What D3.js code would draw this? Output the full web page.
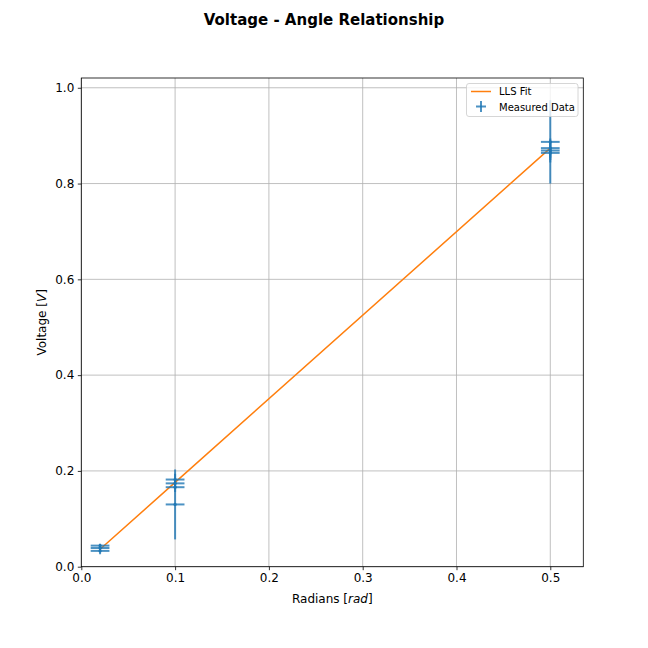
<!DOCTYPE html>
<html><head><meta charset="utf-8">
<script src="https://cdn.jsdelivr.net/npm/d3@7"></script>
<style>body{margin:0;background:#fff}svg{font-family:"DejaVu Sans",sans-serif}</style>
</head><body>
<script>
// Measured data (radians, voltage, x error, y error)
const radians = [0.02, 0.02, 0.02, 0.1, 0.1, 0.1, 0.1, 0.5, 0.5, 0.5, 0.5];
const voltage = [0.044, 0.039, 0.033, 0.182, 0.174, 0.166, 0.130, 0.887, 0.874, 0.869, 0.864];
const xErr = [0.01, 0.01, 0.01, 0.01, 0.01, 0.01, 0.01, 0.01, 0.01, 0.01, 0.01];
const yErr = [0.004, 0.005, 0.007, 0.012, 0.01, 0.01, 0.073, 0.087, 0.02, 0.02, 0.02];
// LLS fit line
const fitX = [0.02, 0.1, 0.5];
const fitSlope = 1.745, fitIntercept = 0.0015;
const xTicks = [0, 0.1, 0.2, 0.3, 0.4, 0.5];
const yTicks = [0, 0.2, 0.4, 0.6, 0.8, 1.0];

const W = 648, H = 648;
const m = {l: 81.3, r: 583.3, t: 78, b: 566.7};
const svg = d3.select("body").append("svg").attr("width", W).attr("height", H);
const x = d3.scaleLinear().domain([0, 0.5352]).range([m.l, m.r]);
const y = d3.scaleLinear().domain([0, 1.0204]).range([m.b, m.t]);

// grid
const g = svg.append("g");
g.selectAll(".gx").data(xTicks).enter().append("line")
  .attr("x1", d => x(d)).attr("x2", d => x(d)).attr("y1", m.t).attr("y2", m.b)
  .attr("stroke", "#b0b0b0").attr("stroke-width", 0.8);
g.selectAll(".gy").data(yTicks).enter().append("line")
  .attr("y1", d => y(d)).attr("y2", d => y(d)).attr("x1", m.l).attr("x2", m.r)
  .attr("stroke", "#b0b0b0").attr("stroke-width", 0.8);

// axes
const fmt = d3.format(".1f");
const ax = svg.append("g").attr("transform", `translate(0,${m.b})`)
  .call(d3.axisBottom(x).tickValues(xTicks).tickFormat(fmt).tickSize(3.5).tickPadding(3.5));
const ay = svg.append("g").attr("transform", `translate(${m.l},0)`)
  .call(d3.axisLeft(y).tickValues(yTicks).tickFormat(fmt).tickSize(3.5).tickPadding(3.5));
[ax, ay].forEach(a => {
  a.select(".domain").remove();
  a.selectAll("text").attr("font-size", 12).attr("fill", "#000").attr("font-family", "DejaVu Sans");
  a.selectAll("line").attr("stroke", "#000").attr("stroke-width", 0.8);
});

// fit line
const lineGen = d3.line().x(d => x(d)).y(d => y(fitSlope * d + fitIntercept));
svg.append("path").datum(fitX).attr("d", lineGen).attr("fill", "none")
  .attr("stroke", "#ff7f0e").attr("stroke-width", 1.5);

// error bars
const pts = radians.map((r, i) => ({x: r, y: voltage[i], xe: xErr[i], ye: yErr[i]}));
const eb = svg.append("g").attr("stroke", "#1f77b4").attr("stroke-opacity", 0.8).attr("stroke-width", 2);
eb.selectAll(".h").data(pts).enter().append("line")
  .attr("x1", d => x(d.x - d.xe)).attr("x2", d => x(d.x + d.xe))
  .attr("y1", d => y(d.y)).attr("y2", d => y(d.y));
eb.selectAll(".v").data(pts).enter().append("line")
  .attr("x1", d => x(d.x)).attr("x2", d => x(d.x))
  .attr("y1", d => y(d.y - d.ye)).attr("y2", d => y(d.y + d.ye));
svg.append("g").selectAll("circle").data(pts).enter().append("circle")
  .attr("cx", d => x(d.x)).attr("cy", d => y(d.y)).attr("r", 1.6)
  .attr("fill", "#1f77b4");

// spines
svg.append("rect").attr("x", m.l).attr("y", m.t).attr("width", m.r - m.l).attr("height", m.b - m.t)
  .attr("fill", "none").attr("stroke", "#000").attr("stroke-width", 0.8);

// legend
const lg = svg.append("g");
lg.append("rect").attr("x", 466.5).attr("y", 83.5).attr("width", 111.5).attr("height", 33).attr("rx", 2.5)
  .attr("fill", "#fff").attr("fill-opacity", 0.8).attr("stroke", "#cccccc").attr("stroke-width", 0.8);
lg.append("line").attr("x1", 471).attr("x2", 491).attr("y1", 91.5).attr("y2", 91.5)
  .attr("stroke", "#ff7f0e").attr("stroke-width", 1.5);
lg.append("line").attr("x1", 476).attr("x2", 486).attr("y1", 106.5).attr("y2", 106.5)
  .attr("stroke", "#1f77b4").attr("stroke-width", 2).attr("stroke-opacity", 0.8);
lg.append("line").attr("x1", 481).attr("x2", 481).attr("y1", 101).attr("y2", 112)
  .attr("stroke", "#1f77b4").attr("stroke-width", 2).attr("stroke-opacity", 0.8);
lg.append("text").attr("x", 499).attr("y", 95).attr("font-size", 10).text("LLS Fit");
lg.append("text").attr("x", 499).attr("y", 110.5).attr("font-size", 10).text("Measured Data");

// labels
svg.append("text").attr("x", 324).attr("y", 25).attr("text-anchor", "middle")
  .attr("font-size", 15).attr("font-weight", "bold").text("Voltage - Angle Relationship");
const xl = svg.append("text").attr("x", (m.l + m.r) / 2).attr("y", 603).attr("text-anchor", "middle").attr("font-size", 12);
xl.append("tspan").text("Radians [");
xl.append("tspan").attr("font-style", "italic").text("rad");
xl.append("tspan").text("]");
const yl = svg.append("text").attr("transform", `translate(46,${(m.t + m.b) / 2}) rotate(-90)`)
  .attr("text-anchor", "middle").attr("font-size", 12);
yl.append("tspan").text("Voltage [");
yl.append("tspan").attr("font-style", "italic").text("V");
yl.append("tspan").text("]");
</script>
</body></html>
